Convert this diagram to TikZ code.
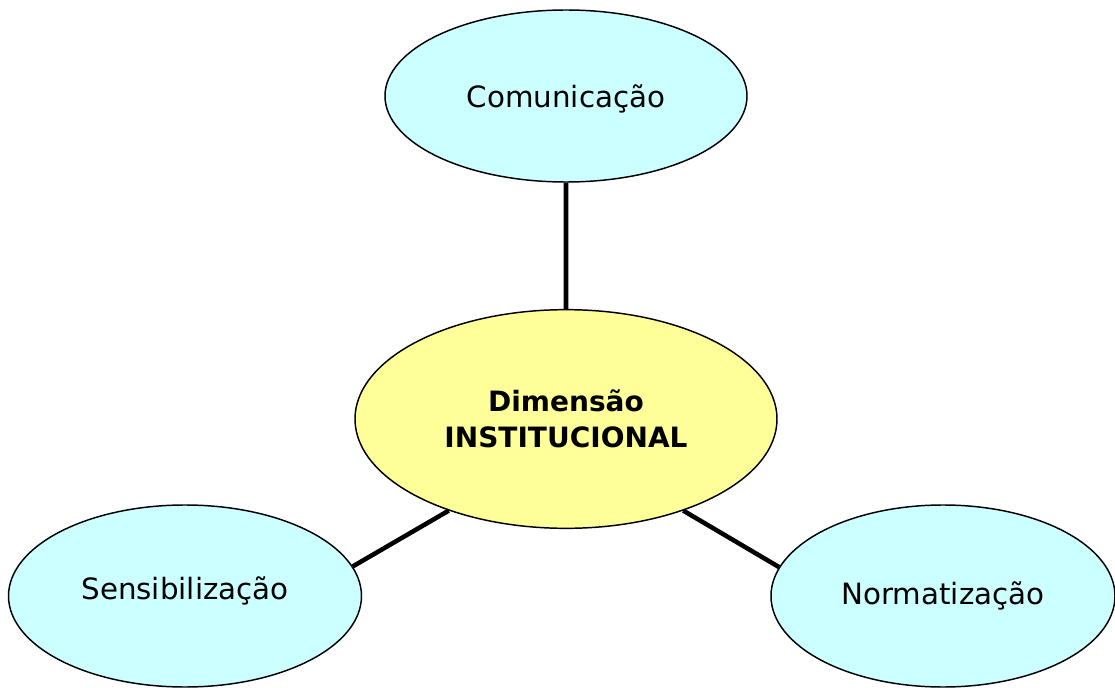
\documentclass[tikz,border=0pt]{standalone}
\usepackage{fontspec}
\setmainfont{DejaVu Sans}
\usetikzlibrary{shapes.geometric}
\definecolor{ciano}{HTML}{CCFFFF}
\definecolor{amarelo}{HTML}{FFFF99}
\begin{document}
\begin{tikzpicture}[x=0.75pt,y=-0.75pt,
  bolha/.style={draw, ellipse, line width=1.1pt, fill=ciano, inner sep=0pt,
    font=\fontsize{22}{26}\selectfont},
  ligacao/.style={line width=3.4pt}]
\useasboundingbox (0,0) rectangle (1115,688);
\node (0) at (566,419) [bolha, fill=amarelo, minimum width=316.5pt, minimum height=164pt,
  align=center, font=\fontsize{21}{27}\selectfont\bfseries] {Dimensão\\INSTITUCIONAL};
\node (1) at (566,96) [bolha, minimum width=271.5pt, minimum height=129pt]
  {\raisebox{-2pt}[\height][\depth]{Comunicação}};
\node (2) at (185,596) [bolha, minimum width=264.75pt, minimum height=136.5pt]
  {\raisebox{4pt}[\height][\depth]{Sensibilização}};
\node (3) at (943,596) [bolha, minimum width=258pt, minimum height=136.5pt] {Normatização};

\draw[ligacao]
(0) to (1)
(0.218) to (2.10)
(0.322) to (3.170);
\end{tikzpicture}
\end{document}
